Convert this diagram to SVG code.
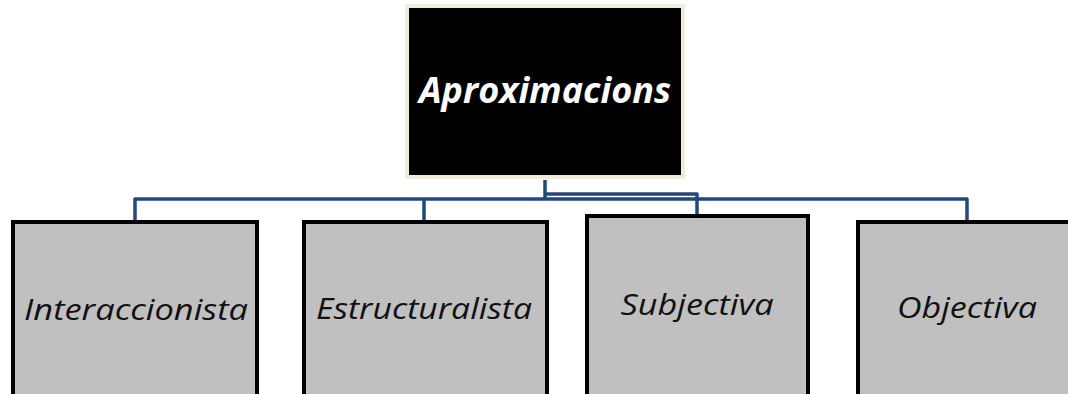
<svg xmlns="http://www.w3.org/2000/svg" width="1068" height="394" viewBox="0 0 1068 394">
  <style>
    .root { fill: #000; stroke: #f1ecdc; stroke-width: 4; }
    .leaf { fill: #c0c0c0; stroke: #000; stroke-width: 4; }
    .link { fill: none; stroke: #1f497d; stroke-width: 3.5; stroke-linejoin: round; }
    .title { font-family: "Open Sans", "Noto Sans", sans-serif; font-style: italic; font-weight: bold; font-size: 35px; fill: #fff; text-anchor: middle; }
    .label { font-family: "Open Sans", "Noto Sans", sans-serif; font-style: italic; font-size: 30px; fill: #111; text-anchor: middle; }
  </style>
  <rect width="1068" height="394" fill="#fff"/>

  <g id="connectors">
    <path class="link" d="M545 180 V199"/>
    <path class="link" d="M135 222 V199 H967 V222"/>
    <path class="link" d="M424 199 V222"/>
    <path class="link" d="M545 194 H697 V216"/>
  </g>

  <g id="node-aproximacions">
    <rect class="root" x="407" y="6" width="276" height="171"/>
    <text class="title" x="545" y="103" textLength="252" lengthAdjust="spacingAndGlyphs">Aproximacions</text>
  </g>

  <g id="node-interaccionista">
    <rect class="leaf" x="13" y="222" width="244" height="180"/>
    <text class="label" x="136" y="320" textLength="224" lengthAdjust="spacingAndGlyphs">Interaccionista</text>
  </g>

  <g id="node-estructuralista">
    <rect class="leaf" x="304" y="222" width="243" height="180"/>
    <text class="label" x="424" y="319" textLength="216" lengthAdjust="spacingAndGlyphs">Estructuralista</text>
  </g>

  <g id="node-subjectiva">
    <rect class="leaf" x="587" y="216" width="221" height="186"/>
    <text class="label" x="697" y="315" textLength="153" lengthAdjust="spacingAndGlyphs">Subjectiva</text>
  </g>

  <g id="node-objectiva">
    <rect class="leaf" x="858" y="222" width="220" height="180"/>
    <text class="label" x="967" y="318" textLength="140" lengthAdjust="spacingAndGlyphs">Objectiva</text>
  </g>
</svg>
